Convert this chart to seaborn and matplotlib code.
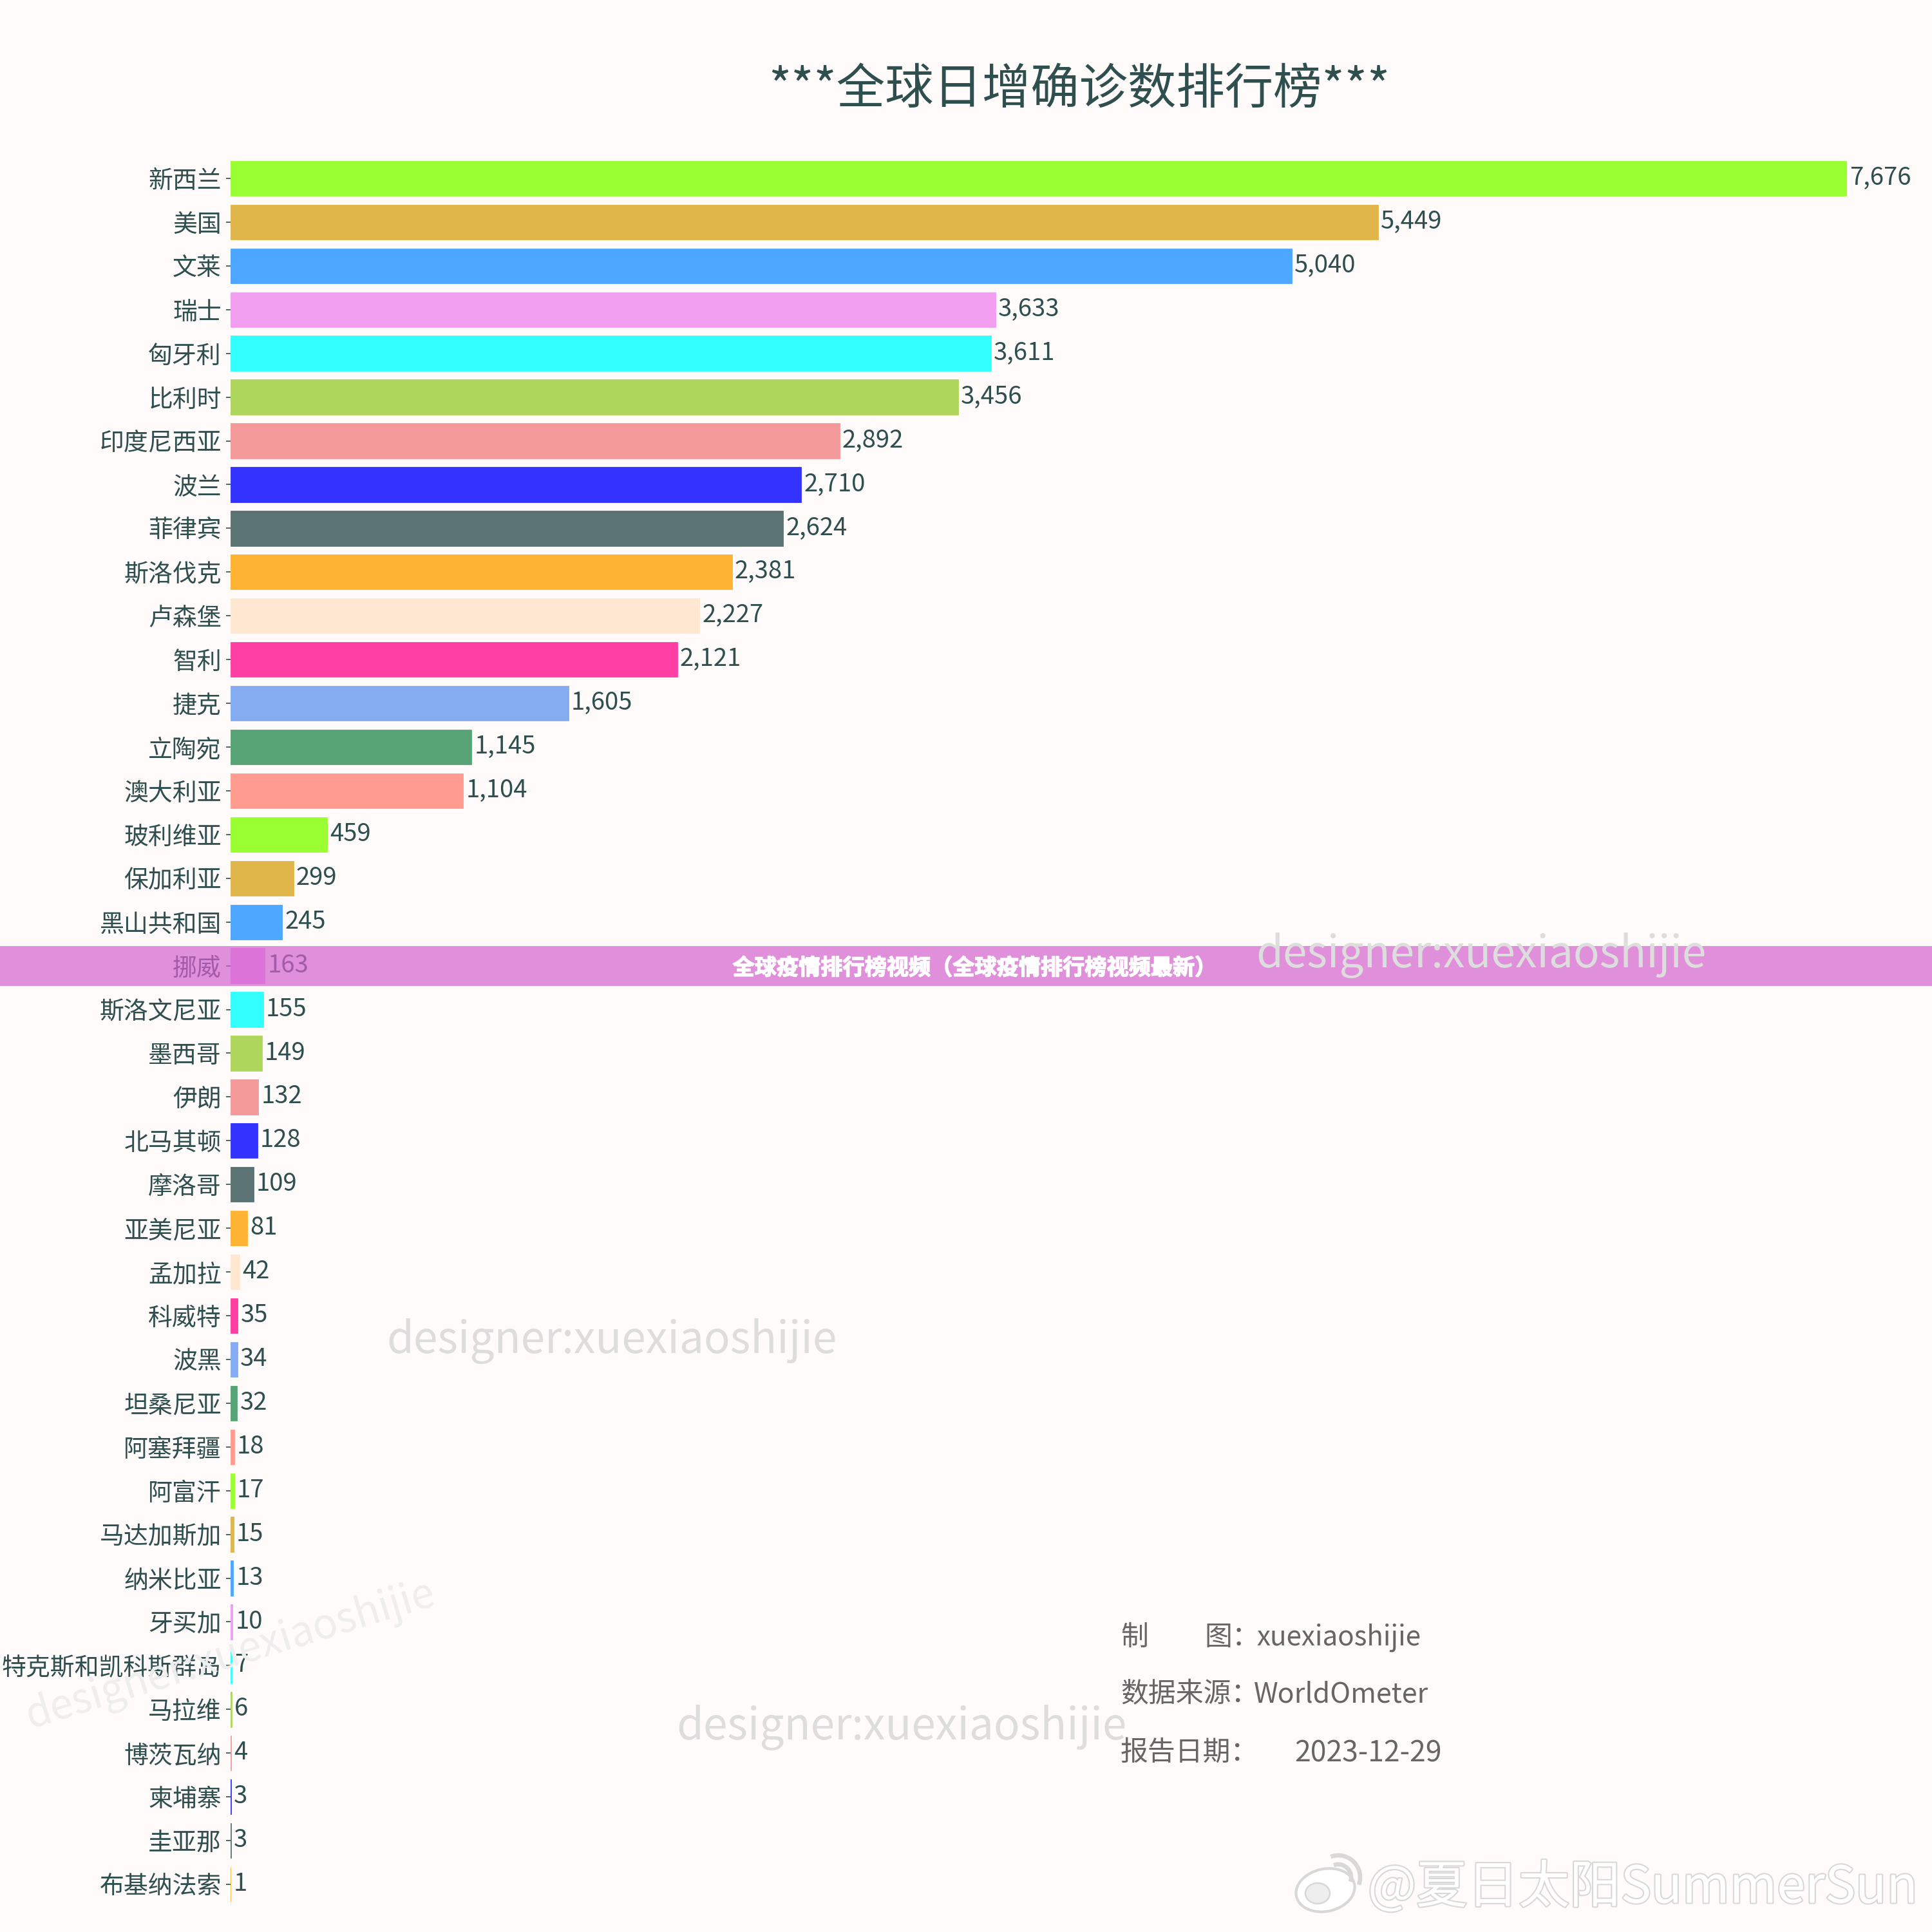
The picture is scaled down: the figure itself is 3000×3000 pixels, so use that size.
import matplotlib
matplotlib.use("Agg")
import matplotlib.pyplot as plt
import matplotlib.patheffects as pe
from matplotlib.patches import Ellipse, Arc, Rectangle
import pandas as pd
import seaborn as sns

# chart data
countries = ["新西兰", "美国", "文莱", "瑞士", "匈牙利", "比利时", "印度尼西亚", "波兰", "菲律宾", "斯洛伐克",
             "卢森堡", "智利", "捷克", "立陶宛", "澳大利亚", "玻利维亚", "保加利亚", "黑山共和国", "挪威", "斯洛文尼亚",
             "墨西哥", "伊朗", "北马其顿", "摩洛哥", "亚美尼亚", "孟加拉", "科威特", "波黑", "坦桑尼亚", "阿塞拜疆",
             "阿富汗", "马达加斯加", "纳米比亚", "牙买加", "特克斯和凯科斯群岛", "马拉维", "博茨瓦纳", "柬埔寨", "圭亚那", "布基纳法索"]
cases = [7676, 5449, 5040, 3633, 3611, 3456, 2892, 2710, 2624, 2381,
         2227, 2121, 1605, 1145, 1104, 459, 299, 245, 163, 155,
         149, 132, 128, 109, 81, 42, 35, 34, 32, 18,
         17, 15, 13, 10, 7, 6, 4, 3, 3, 1]
bar_colors = ["#99FF33", "#E0B54A", "#4DA6FF", "#F29EF0", "#33FFFF", "#AED65C", "#F49999", "#3333FF",
              "#5C7373", "#FFB333", "#FFE8D1", "#FF3FA3", "#85ABF0", "#58A375", "#FF9C8F"]
watermark = "designer:xuexiaoshijie"
band_title = "全球疫情排行榜视频（全球疫情排行榜视频最新）"
main_title = "***全球日增确诊数排行榜***"

sns.set_theme(style="ticks")
plt.rcParams["font.family"] = ["Noto Sans CJK SC", "DejaVu Sans"]

text_color = "#2F4F4F"
bg_color = "#FFFBFA"


# pixel position in the 3000 px picture to figure coordinates
def fx(px):
    return px / 3000


def fy(px):
    return 1 - px / 3000


df = pd.DataFrame({"country": countries, "cases": cases})
palette = [bar_colors[i % len(bar_colors)] for i in range(len(countries))]

fig = plt.figure(figsize=(10, 10), dpi=300, facecolor=bg_color)
ax = fig.add_axes([fx(358), fy(2960), 2510 / 3000, (2960 - 243) / 3000])
ax.set_facecolor("none")

sns.barplot(data=df, y="country", x="cases", hue="country", palette=palette, dodge=False,
            legend=False, saturation=1, width=0.8, linewidth=0, ax=ax)

# hairline in the bar's own colour so the smallest values still show
for bar in ax.patches:
    bar.set_edgecolor(bar.get_facecolor())
    bar.set_linewidth(0.2)

ax.set_xlim(0, 7676)
ax.set_ylim(len(countries) - 0.5, -0.5)
ax.set_xlabel("")
ax.set_ylabel("")
ax.set_xticks([])
sns.despine(ax=ax, left=True, bottom=True)
ax.tick_params(axis="y", length=1.7, width=0.4, pad=1.7, labelsize=9.1, labelcolor=text_color, color=text_color)

# value labels
for i, value in enumerate(cases):
    ax.annotate(f"{value:,}", (value, i), xytext=(1.0, 0.1), textcoords="offset points",
                ha="left", va="center", fontsize=9.2, color=text_color, annotation_clip=False)

# title
fig.text(fx(1676), fy(140), main_title, ha="center", va="center", fontsize=18.1, color=text_color)

# source block
note_color = "#666666"
fig.text(fx(1740), fy(2543), "制", va="center", fontsize=10.3, color=note_color)
fig.text(fx(1870), fy(2543), "图：", va="center", fontsize=10.3, color=note_color)
fig.text(fx(1951), fy(2543), "xuexiaoshijie", va="center", fontsize=10.1, color=note_color)
fig.text(fx(1740), fy(2631), "数据来源：", va="center", fontsize=10.3, color=note_color)
fig.text(fx(1947), fy(2631), "WorldOmeter", va="center", fontsize=10.3, color=note_color)
fig.text(fx(1740), fy(2722), "报告日期：", va="center", fontsize=10.3, color=note_color)
fig.text(fx(2010), fy(2722), "2023-12-29", va="center", fontsize=10.7, color=note_color)

# purple band across the chart
band = Rectangle((0, fy(1531)), 1, 62 / 3000, transform=fig.transFigure, facecolor="#D461CF",
                 alpha=0.7, edgecolor="none", zorder=5)
fig.add_artist(band)
fig.text(fx(1513), fy(1503), band_title, ha="center", va="center", fontsize=8.2, color="white",
         fontweight="bold", zorder=6, path_effects=[pe.withStroke(linewidth=0.35, foreground="white")])

# repeated designer watermarks
for x_px, y_px, angle, shade, size in [(2300, 1484, 0, "#DDDDDD", 16.2), (950, 2083, 0, "#DDDDDD", 16.2),
                                       (1400, 2682, 0, "#DDDDDD", 16.2), (358, 2570, 17, "#EEEEEE", 15.3)]:
    fig.text(fx(x_px), fy(y_px), watermark, ha="center", va="center", fontsize=size, color=shade,
             rotation=angle, rotation_mode="anchor", zorder=7)

# weibo mark, bottom right
outline = "#D8D8D8"
fig.text(fx(2124), fy(2932), "@夏日太阳SummerSun", ha="left", va="center", fontsize=19.05, color="white",
         zorder=8, path_effects=[pe.withStroke(linewidth=1.0, foreground=outline)])
fig.add_artist(Ellipse((fx(2058), fy(2935)), 92 / 3000, 66 / 3000, angle=12, transform=fig.transFigure,
                       facecolor="white", edgecolor=outline, linewidth=1.0, zorder=8))
fig.add_artist(Ellipse((fx(2046), fy(2940)), 38 / 3000, 32 / 3000, transform=fig.transFigure,
                       facecolor="#EEEEEE", edgecolor=outline, linewidth=0.6, zorder=8))
fig.add_artist(Arc((fx(2078), fy(2915)), 40 / 3000, 40 / 3000, theta1=-20, theta2=110, transform=fig.transFigure,
                   edgecolor=outline, linewidth=1.6, zorder=8))
fig.add_artist(Arc((fx(2078), fy(2915)), 68 / 3000, 68 / 3000, theta1=-20, theta2=110, transform=fig.transFigure,
                   edgecolor=outline, linewidth=1.6, zorder=8))

fig.savefig("out.png", dpi=300, facecolor=bg_color)
